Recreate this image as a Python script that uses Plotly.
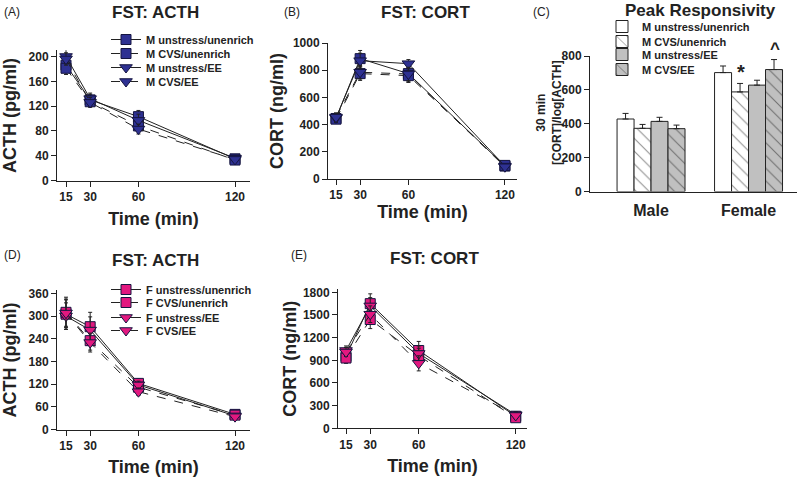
import plotly.graph_objects as go

W, H = 800, 480

# ---------------- data ----------------
time_min = [15, 30, 60, 120]
time_ticks = [15, 30, 60, 120]

group_names = ["unstress/unenrich", "CVS/unenrich", "unstress/EE", "CVS/EE"]

# Panel A: male ACTH (pg/ml)
m_acth_unstress_unenrich = [186, 130, 103, 35]
m_acth_cvs_unenrich = [181, 127, 88, 33]
m_acth_unstress_ee = [200, 132, 97, 36]
m_acth_cvs_ee = [196, 126, 83, 34]
m_acth_err_unstress_unenrich = [12, 9, 10, 3]
m_acth_err_cvs_unenrich = [10, 8, 8, 3]
m_acth_err_unstress_ee = [12, 9, 10, 3]
m_acth_err_cvs_ee = [10, 8, 8, 3]

# Panel B: male CORT (ng/ml)
m_cort_unstress_unenrich = [445, 885, 775, 95]
m_cort_cvs_unenrich = [440, 775, 760, 100]
m_cort_unstress_ee = [450, 870, 848, 95]
m_cort_cvs_ee = [455, 785, 772, 90]
m_cort_err_unstress_unenrich = [35, 60, 60, 15]
m_cort_err_cvs_unenrich = [30, 50, 50, 15]
m_cort_err_unstress_ee = [35, 55, 30, 15]
m_cort_err_cvs_ee = [30, 50, 50, 15]

# Panel C: peak responsivity (30 min [CORT]/log[ACTH])
bar_groups = ["Male", "Female"]
c_unstress_unenrich = [428, 702]
c_cvs_unenrich = [373, 588]
c_unstress_ee = [414, 628]
c_cvs_ee = [371, 720]
c_err_unstress_unenrich = [33, 39]
c_err_cvs_unenrich = [23, 50]
c_err_unstress_ee = [24, 29]
c_err_cvs_ee = [21, 59]

# Panel D: female ACTH (pg/ml)
f_acth_unstress_unenrich = [305, 272, 122, 40]
f_acth_cvs_unenrich = [310, 235, 112, 38]
f_acth_unstress_ee = [300, 263, 118, 36]
f_acth_cvs_ee = [308, 230, 100, 34]
f_acth_err_unstress_unenrich = [40, 38, 12, 5]
f_acth_err_cvs_unenrich = [40, 25, 10, 5]
f_acth_err_unstress_ee = [35, 35, 10, 5]
f_acth_err_cvs_ee = [35, 25, 10, 5]

# Panel E: female CORT (ng/ml)
f_cort_unstress_unenrich = [950, 1650, 1030, 160]
f_cort_cvs_unenrich = [930, 1440, 960, 140]
f_cort_unstress_ee = [1030, 1620, 990, 180]
f_cort_cvs_ee = [1010, 1510, 860, 170]
f_cort_err_unstress_unenrich = [70, 130, 120, 40]
f_cort_err_cvs_unenrich = [70, 120, 100, 40]
f_cort_err_unstress_ee = [60, 110, 100, 40]
f_cort_err_cvs_ee = [60, 110, 100, 40]

# ---------------- styling ----------------
FONT = "Liberation Sans, Arial, Helvetica, sans-serif"
INK = "#222222"
NAVY = "#2E3192"
PINK = "#E2187F"
GREY = "#C0C0C0"

styles = [("square", "solid"), ("square", "dash"),
          ("triangle-down", "solid"), ("triangle-down", "dash")]
# legends are split in two interleaved columns so the rows sit 14 px apart
legend_split = [0, 1, 0, 1]


def fx(p):
    return p / W


def fy(p):
    return 1 - p / H


fig = go.Figure()


def add_lines(series, errors, prefix, color, xa, ya, legends, show, tag):
    for i, (name, vals, err, (sym, dash)) in enumerate(zip(group_names, series, errors, styles)):
        fig.add_trace(go.Scatter(
            x=time_min, y=vals, name=f"{prefix} {name}",
            mode="lines+markers",
            line=dict(color=INK, width=1, dash=dash),
            marker=dict(symbol=sym, size=10 if sym == "square" else 11,
                        color=color, line=dict(color="#151540", width=1)),
            error_y=dict(type="data", array=err, color=INK, thickness=1, width=2),
            xaxis=xa, yaxis=ya, legend=legends[legend_split[i]], showlegend=show,
            legendgroup=f"{tag}{i}", cliponaxis=False,
        ))


add_lines([m_acth_unstress_unenrich, m_acth_cvs_unenrich, m_acth_unstress_ee, m_acth_cvs_ee],
          [m_acth_err_unstress_unenrich, m_acth_err_cvs_unenrich, m_acth_err_unstress_ee, m_acth_err_cvs_ee],
          "M", NAVY, "x", "y", ["legend", "legend2"], True, "A")
add_lines([m_cort_unstress_unenrich, m_cort_cvs_unenrich, m_cort_unstress_ee, m_cort_cvs_ee],
          [m_cort_err_unstress_unenrich, m_cort_err_cvs_unenrich, m_cort_err_unstress_ee, m_cort_err_cvs_ee],
          "M", NAVY, "x2", "y2", ["legend", "legend2"], False, "B")
add_lines([f_acth_unstress_unenrich, f_acth_cvs_unenrich, f_acth_unstress_ee, f_acth_cvs_ee],
          [f_acth_err_unstress_unenrich, f_acth_err_cvs_unenrich, f_acth_err_unstress_ee, f_acth_err_cvs_ee],
          "F", PINK, "x4", "y4", ["legend5", "legend6"], True, "D")
add_lines([f_cort_unstress_unenrich, f_cort_cvs_unenrich, f_cort_unstress_ee, f_cort_cvs_ee],
          [f_cort_err_unstress_unenrich, f_cort_err_cvs_unenrich, f_cort_err_unstress_ee, f_cort_err_cvs_ee],
          "F", PINK, "x5", "y5", ["legend5", "legend6"], False, "E")

bar_series = [c_unstress_unenrich, c_cvs_unenrich, c_unstress_ee, c_cvs_ee]
bar_errs = [c_err_unstress_unenrich, c_err_cvs_unenrich, c_err_unstress_ee, c_err_cvs_ee]
bar_fill = ["white", "white", GREY, GREY]
bar_hatch = ["", "\\", "", "\\"]
bar_legends = ["legend3", "legend4"]
for i, (name, vals, err, fill, hatch) in enumerate(zip(group_names, bar_series, bar_errs, bar_fill, bar_hatch)):
    fig.add_trace(go.Bar(
        x=bar_groups, y=vals, name=f"M {name}",
        marker=dict(color=fill, line=dict(color=INK, width=1),
                    pattern=dict(shape=hatch, fgcolor=INK, bgcolor=fill, size=9, solidity=0.12)),
        error_y=dict(type="data", symmetric=False, array=err, arrayminus=[0] * len(err),
                     color=INK, thickness=1, width=3),
        xaxis="x3", yaxis="y3", legend=bar_legends[legend_split[i]], legendgroup=f"C{i}",
    ))

tickfont = dict(family=FONT, size=12, color=INK, weight="bold")
titlefont = dict(family=FONT, size=18, color=INK, weight="bold")
legfont = dict(family=FONT, size=11, color=INK, weight="bold")


def xaxis(px0, px1, rng, title, anchor, standoff=8):
    return dict(domain=[fx(px0), fx(px1)], range=rng, tickvals=time_ticks,
                showline=True, linecolor=INK, linewidth=1, ticks="outside",
                ticklen=5, tickcolor=INK, showgrid=False, zeroline=False,
                tickfont=tickfont, anchor=anchor,
                title=dict(text=title, font=titlefont, standoff=standoff))


def yaxis(py0, py1, rng, dtick, title, anchor, standoff=8):
    return dict(domain=[fy(py0), fy(py1)], range=rng, dtick=dtick, tick0=0,
                showline=True, linecolor=INK, linewidth=1, ticks="outside",
                ticklen=5, tickcolor=INK, showgrid=False, zeroline=False,
                tickfont=tickfont, anchor=anchor,
                title=dict(text=title, font=titlefont, standoff=standoff))


def legend_at(px_left, px_top):
    return dict(x=fx(px_left), y=fy(px_top), xanchor="left", yanchor="top",
                bgcolor="rgba(0,0,0,0)", itemwidth=30, tracegroupgap=9,
                font=legfont)


fig.update_layout(
    width=W, height=H, margin=dict(l=0, r=0, t=0, b=0, autoexpand=False),
    paper_bgcolor="white", plot_bgcolor="white",
    font=dict(family=FONT, color=INK),
    barmode="group", bargap=0.303, bargroupgap=0,
    xaxis=xaxis(57, 250, [9.4, 129.3], "Time (min)", "y", 9),
    yaxis=yaxis(180.5, 50.3, [0, 210], 40, "ACTH (pg/ml)", "x", 9),
    xaxis2=xaxis(328, 517, [10.03, 127.5], "Time (min)", "y2", 3),
    yaxis2=yaxis(179, 43, [0, 1000], 200, "CORT (ng/ml)", "x2", 4),
    xaxis4=xaxis(57, 250, [9.4, 129.3], "Time (min)", "y4", 8),
    yaxis4=yaxis(429.5, 290.4, [0, 368], 60, "ACTH (pg/ml)", "x4", 11),
    xaxis5=xaxis(338, 527, [10.05, 127], "Time (min)", "y5", 8),
    yaxis5=yaxis(428.3, 289.3, [0, 1840], 300, "CORT (ng/ml)", "x5", 1),
    xaxis3=dict(domain=[fx(590), fx(797)], range=[-0.626, 1.497], type="category",
                showline=True, linecolor=INK, linewidth=1, ticks="", showgrid=False,
                zeroline=False, anchor="y3", ticklabelstandoff=4,
                tickfont=dict(family=FONT, size=16, color=INK, weight="bold")),
    yaxis3=dict(domain=[fy(191.5), fy(56)], range=[0, 800], dtick=200,
                showline=True, linecolor=INK, linewidth=1, ticks="outside",
                ticklen=5, tickcolor=INK, showgrid=False, zeroline=False,
                tickfont=tickfont, anchor="x3"),
    legend=legend_at(106, 25),
    legend2=legend_at(106, 39),
    legend3=legend_at(602, 12),
    legend4=legend_at(602, 27),
    legend5=legend_at(106, 275),
    legend6=legend_at(106, 288),
)

ann_font = dict(family=FONT, size=12, color=INK)
head_font = dict(family=FONT, size=17, color=INK, weight="bold")
texts = [
    ("(A)", 12, 12, ann_font), ("FST: ACTH", 155, 12, head_font),
    ("(B)", 292, 12, ann_font), ("FST: CORT", 425, 12, head_font),
    ("(C)", 541, 12, ann_font), ("Peak Responsivity", 700, 10, head_font),
    ("(D)", 12, 255, ann_font), ("FST: ACTH", 155, 260, head_font),
    ("(E)", 299, 255, ann_font), ("FST: CORT", 435, 258, head_font),
]
for t, x, y, f in texts:
    fig.add_annotation(text=t, x=fx(x), y=fy(y), xref="paper", yref="paper",
                       showarrow=False, xanchor="center", yanchor="middle", font=f)

# y-axis title of panel C (two lines)
fig.add_annotation(text="30 min<br>[CORT]/log[ACTH]", x=fx(549), y=fy(113),
                   xref="paper", yref="paper", showarrow=False, textangle=-90,
                   xanchor="center", yanchor="middle",
                   font=dict(family=FONT, size=12, color=INK, weight="bold"))

# significance marks above female bars
fig.add_annotation(text="*", x="Female", y=c_cvs_unenrich[1] + c_err_cvs_unenrich[1],
                   xref="x3", yref="y3", xshift=-8, yshift=-2, yanchor="bottom",
                   showarrow=False, font=dict(family=FONT, size=20, color=INK, weight="bold"))
fig.add_annotation(text="^", x="Female", y=c_cvs_ee[1] + c_err_cvs_ee[1],
                   xref="x3", yref="y3", xshift=26, yshift=0, yanchor="bottom",
                   showarrow=False, font=dict(family=FONT, size=17, color=INK, weight="bold"))

fig.write_html("out.html", config={"displayModeBar": False},
               post_script="document.body.style.margin='0';document.body.style.padding='0';")
